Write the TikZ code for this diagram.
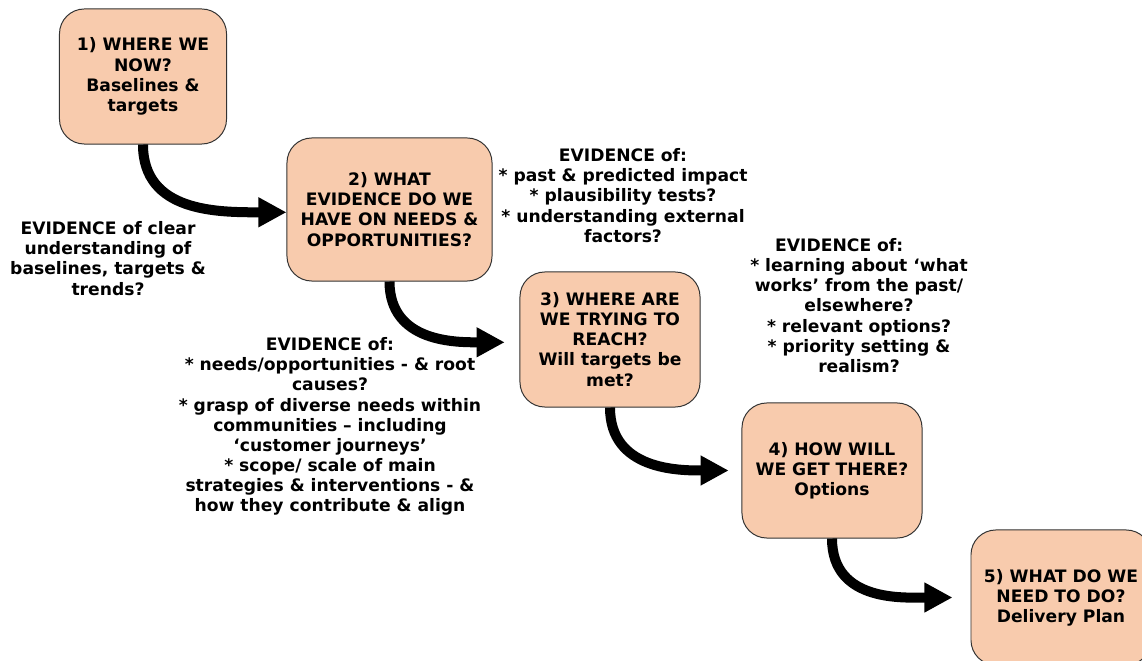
\documentclass[tikz,border=0pt]{standalone}
\usepackage{fontspec}
\setmainfont{DejaVu Sans}
\usepackage{xcolor}
\definecolor{peach}{HTML}{F8CBAD}
\usepackage{tikz}
\usetikzlibrary{arrows.meta,positioning}

\begin{document}
\begin{tikzpicture}[
    x=0.025cm, y=-0.025cm,
    font=\fontsize{12.2}{14.3}\selectfont\bfseries,
    stage/.style={rectangle, rounded corners=0.62cm, minimum width=4.5cm, minimum height=3.375cm, align=center, draw=black!80, fill=peach, line width=0.7pt, inner sep=2pt},
    evidence/.style={align=center, inner sep=0pt},
    flow/.style={-{Triangle[length=0.7cm, width=0.7cm]}, line width=0.25cm, black},
]
\useasboundingbox (0,0) rectangle (1142,661);

% Stages
\node[stage, minimum width=4.175cm] (where) at (143,76.5) {1) WHERE WE\\NOW?\\Baselines \&\\targets};
\node[stage, minimum width=5.125cm, minimum height=3.575cm] (needs) at (389.5,209.5) {2) WHAT\\EVIDENCE DO WE\\HAVE ON NEEDS \&\\OPPORTUNITIES?};
\node[stage] (reach) at (610,339.5) {3) WHERE ARE\\WE TRYING TO\\REACH?\\Will targets be\\met?};
\node[stage] (how) at (832,470.5) {4) HOW WILL\\WE GET THERE?\\Options};
\node[stage] (todo) at (1061,597.5) {5) WHAT DO WE\\NEED TO DO?\\Delivery Plan};

% Evidence notes
\node[evidence] (ev1) at (108,258.5) {EVIDENCE of clear\\understanding of\\baselines, targets \&\\trends?};
\node[evidence] (ev2) at (623,195.5) {EVIDENCE of:\\* past \& predicted impact\\* plausibility tests?\\* understanding external\\factors?};
\node[evidence] (ev3) at (859,305.5) {EVIDENCE of:\hspace*{2.3em}\\* learning about ‘what\\works’ from the past/\\elsewhere?\\* relevant options?\\* priority setting \&\\realism?};
\node[evidence] (ev4) at (330,426.5) {EVIDENCE of:\\* needs/opportunities - \& root\\causes?\\* grasp of diverse needs within\\communities – including\\‘customer journeys’\\* scope/ scale of main\\strategies \& interventions - \&\\how they contribute \& align};

% Arrows
\draw[flow] (where.south) to[out=-90, in=180, looseness=1.1] ([yshift=-0.07cm]needs.west);
\draw[flow, shorten >=0.37cm] (needs.south) to[out=-90, in=180, looseness=1.1] ([yshift=-0.07cm]reach.west);
\draw[flow, shorten >=0.32cm] (reach.south) to[out=-90, in=180, looseness=1.1] (how.west);
\draw[flow, shorten >=0.45cm] (how.south) to[out=-90, in=180, looseness=1.1] (todo.west);

\end{tikzpicture}
\end{document}
